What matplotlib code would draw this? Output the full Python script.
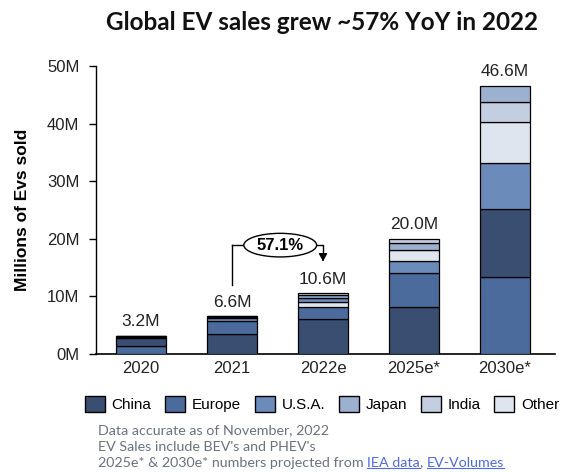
import matplotlib
matplotlib.use("Agg")
import matplotlib.pyplot as plt
from matplotlib.patches import Patch, Ellipse
from matplotlib.lines import Line2D
import numpy as np

years = ["2020", "2021", "2022e", "2025e*", "2030e*"]
regions = ["China", "Europe", "U.S.A.", "Japan", "India", "Other"]
china = [1.3, 3.4, 6.0, 8.2, 11.8]
europe = [1.4, 2.3, 2.2, 5.9, 13.4]
usa = [0.3, 0.6, 0.7, 2.1, 8.0]
japan = [0.05, 0.08, 0.5, 1.2, 2.8]
india = [0.02, 0.04, 0.4, 0.7, 3.6]
other = [0.13, 0.18, 0.8, 1.9, 7.0]
totals = [3.2, 6.6, 10.6, 20.0, 46.6]
colors = ["#394e70", "#4b6b9c", "#6b8cba", "#9cb0cf", "#c3cee1", "#dfe5ef"]

series = [china, europe, usa, japan, india, other]

fig = plt.figure(figsize=(5.62, 4.72), dpi=100)
ax = fig.add_axes([96/562, 1-354/472, (555-96)/562, (354-66)/472])

x = np.arange(len(years))
w = 0.55
for i in range(len(years)):
    vals = [(series[k][i], k) for k in range(len(regions))]
    vals.sort(key=lambda t: -t[0])
    bottom = 0.0
    for v, k in vals:
        ax.bar(x[i], v, w, bottom=bottom, color=colors[k], edgecolor="black", linewidth=0.9, zorder=3)
        bottom += v
    ax.text(x[i], totals[i] + 1.1, f"{totals[i]:.1f}M", ha="center", va="bottom",
            fontsize=12.5, family="Liberation Sans", color="#222222")

ax.set_xlim(-0.495, 4.55)
ax.set_ylim(0, 50)
ax.set_yticks([0, 10, 20, 30, 40, 50])
ax.set_yticklabels([f"{v}M" for v in [0, 10, 20, 30, 40, 50]], fontsize=12, family="Liberation Sans", color="#222222")
ax.set_xticks(x)
ax.set_xticklabels(years, fontsize=12, family="Liberation Sans", color="#222222")
ax.tick_params(axis="x", length=0, pad=5)
ax.tick_params(axis="y", length=5, width=1, direction="out", pad=7)
for s in ["top", "right"]:
    ax.spines[s].set_visible(False)
ax.spines["left"].set_linewidth(1)
ax.spines["bottom"].set_linewidth(1.2)
ax.set_ylabel("Millions of Evs sold", fontsize=12.5, fontweight="bold", family="Liberation Sans", labelpad=12)

# growth annotation
y_h = 18.9
ax.plot([1, 1], [totals[1] + 5.4, y_h], color="black", lw=1, zorder=4)
ax.plot([1, 1.2], [y_h, y_h], color="black", lw=1, zorder=4)
ax.plot([1.85, 2.0, 2.0], [y_h, y_h, 16.6], color="black", lw=1, zorder=4)
ax.annotate("", xy=(2.0, 15.6), xytext=(2.0, 17.0),
            arrowprops=dict(arrowstyle="-|>,head_width=0.25,head_length=0.45", color="black", lw=1), zorder=4)
ell = Ellipse((1.53, y_h), 0.8, 4.1, facecolor="white", edgecolor="black", lw=1, zorder=5)
ax.add_patch(ell)
ax.text(1.53, y_h, "57.1%", ha="center", va="center", fontsize=12, fontweight="bold",
        family="Liberation Sans", zorder=6)

fig.text(322/562, 1-22/472, "Global EV sales grew ~57% YoY in 2022", ha="center", va="center",
         fontsize=17.5, fontweight="bold", family="Lato", color="#111111")

handles = [Patch(facecolor=c, edgecolor="black", linewidth=1) for c in colors]
fig.legend(handles, regions, loc="center", bbox_to_anchor=(322/562, 1-404/472), ncol=6,
           frameon=False, handlelength=1.3, handleheight=1.3, handletextpad=0.45,
           columnspacing=0.9, prop={"family": "Liberation Sans", "size": 11})

gray = "#6b7280"
fs = 10.3
fig.text(98/562, 1-430/472, "Data accurate as of November, 2022", fontsize=fs, color=gray, family="Lato", va="center")
fig.text(98/562, 1-447/472, "EV Sales include BEV's and PHEV's", fontsize=fs, color=gray, family="Lato", va="center")
t1 = fig.text(98/562, 1-463/472, "2025e* & 2030e* numbers projected from ", fontsize=fs, color=gray, family="Lato", va="center")
fig.canvas.draw()
r = fig.canvas.get_renderer()
bb = t1.get_window_extent(r)
link = "#4f6bdc"
x0 = bb.x1 / fig.bbox.width
t2 = fig.text(x0, 1-463/472, "IEA data", fontsize=fs, color=link, family="Lato", va="center")
bb2 = t2.get_window_extent(r)
t3 = fig.text(bb2.x1 / fig.bbox.width, 1-463/472, ", ", fontsize=fs, color=gray, family="Lato", va="center")
bb3 = t3.get_window_extent(r)
t4 = fig.text(bb3.x1 / fig.bbox.width, 1-463/472, "EV-Volumes", fontsize=fs, color=link, family="Lato", va="center")
bb4 = t4.get_window_extent(r)
uy = bb2.y0 / fig.bbox.height + 0.002
for b in (bb2, bb4):
    fig.add_artist(Line2D([b.x0 / fig.bbox.width, b.x1 / fig.bbox.width], [uy, uy], color=link, lw=0.8))

fig.savefig("out.png", dpi=100)
